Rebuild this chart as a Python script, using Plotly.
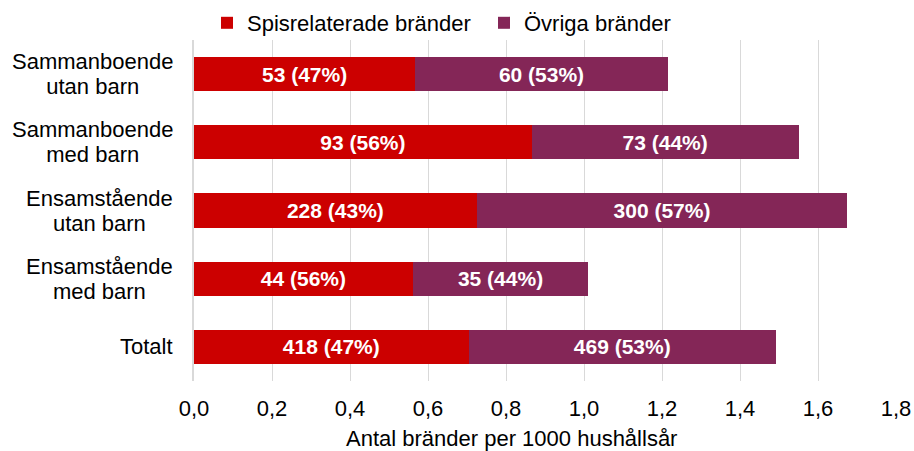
import plotly.graph_objects as go

categories = ["Sammanboende<br>utan barn", "Sammanboende<br>med barn",
              "Ensamstående<br>utan barn", "Ensamstående<br>med barn", "Totalt"]
spis_rate = [0.567, 0.866, 0.725, 0.561, 0.704]
ovriga_rate = [0.648, 0.684, 0.950, 0.450, 0.788]
spis_count = [53, 93, 228, 44, 418]
spis_pct = [47, 56, 43, 56, 47]
ovriga_count = [60, 73, 300, 35, 469]
ovriga_pct = [53, 44, 57, 44, 53]
x_ticks = [0, 0.2, 0.4, 0.6, 0.8, 1.0, 1.2, 1.4, 1.6, 1.8]
x_title = "Antal bränder per 1000 hushållsår"

RED = "#CC0000"
PURPLE = "#842657"
FONT = "Liberation Sans, Arial, sans-serif"

fig = go.Figure()
fig.add_trace(go.Bar(
    y=categories, x=spis_rate, orientation="h", name="Spisrelaterade bränder",
    marker=dict(color=RED, line=dict(width=0)),
    customdata=list(zip(spis_count, spis_pct)),
    texttemplate="%{customdata[0]} (%{customdata[1]}%)",
    textposition="inside", insidetextanchor="middle",
    textfont=dict(color="white", size=21, family=FONT, weight="bold"),
    hoverinfo="skip",
))
fig.add_trace(go.Bar(
    y=categories, x=ovriga_rate, orientation="h", name="Övriga bränder",
    marker=dict(color=PURPLE, line=dict(width=0)),
    customdata=list(zip(ovriga_count, ovriga_pct)),
    texttemplate="%{customdata[0]} (%{customdata[1]}%)",
    textposition="inside", insidetextanchor="middle",
    textfont=dict(color="white", size=21, family=FONT, weight="bold"),
    hoverinfo="skip",
))

for c in categories:
    lines = c.split("<br>")
    txt = "<br>".join(f"<span style='font-size:22px'>{ln}</span>" for ln in lines)
    fig.add_annotation(
        x=0, xref="paper", y=c, yref="y", text=txt, showarrow=False,
        xanchor="right", yanchor="middle", align="center", xshift=-19,
        font=dict(size=19, color="black", family=FONT),
    )

# x-axis title (offset to the left of the plot centre, as in the reference)
fig.add_annotation(
    x=0.4516, xref="paper", y=0, yref="paper", yshift=-57, text=x_title,
    showarrow=False, xanchor="center", yanchor="middle",
    font=dict(size=22, color="black", family=FONT),
)

fig.update_layout(
    width=914, height=451,
    margin=dict(l=194, r=18, t=40, b=70, autoexpand=False),
    barmode="stack", bargap=0.5,
    paper_bgcolor="white", plot_bgcolor="white",
    separators=", ",
    uniformtext=dict(mode="show", minsize=10),
    font=dict(family=FONT, size=22, color="black"),
    showlegend=True,
    legend=dict(orientation="h", xref="container", yref="container",
                x=207 / 914, xanchor="left", y=1 - 23 / 451, yanchor="middle",
                font=dict(size=22, color="black", family=FONT),
                traceorder="normal", itemclick=False,
                entrywidth=232, entrywidthmode="pixels",
                bgcolor="rgba(0,0,0,0)"),
    xaxis=dict(range=[0, 1.8], tickvals=x_ticks, tickformat=".1f",
               showgrid=True, gridcolor="#d9d9d9", gridwidth=1,
               zeroline=False, showline=False, automargin=False,
               ticks="outside", ticklen=8, tickcolor="rgba(0,0,0,0)",
               tickfont=dict(size=22, color="black", family=FONT),
               fixedrange=True),
    yaxis=dict(categoryorder="array", categoryarray=categories, autorange="reversed",
               showticklabels=False, showgrid=False, zeroline=False, automargin=False,
               showline=True, linecolor="#d9d9d9", linewidth=2, fixedrange=True),
)

fig.write_html("out.html", config={"displayModeBar": False},
               post_script="document.body.style.margin='0';document.body.style.padding='0';")
